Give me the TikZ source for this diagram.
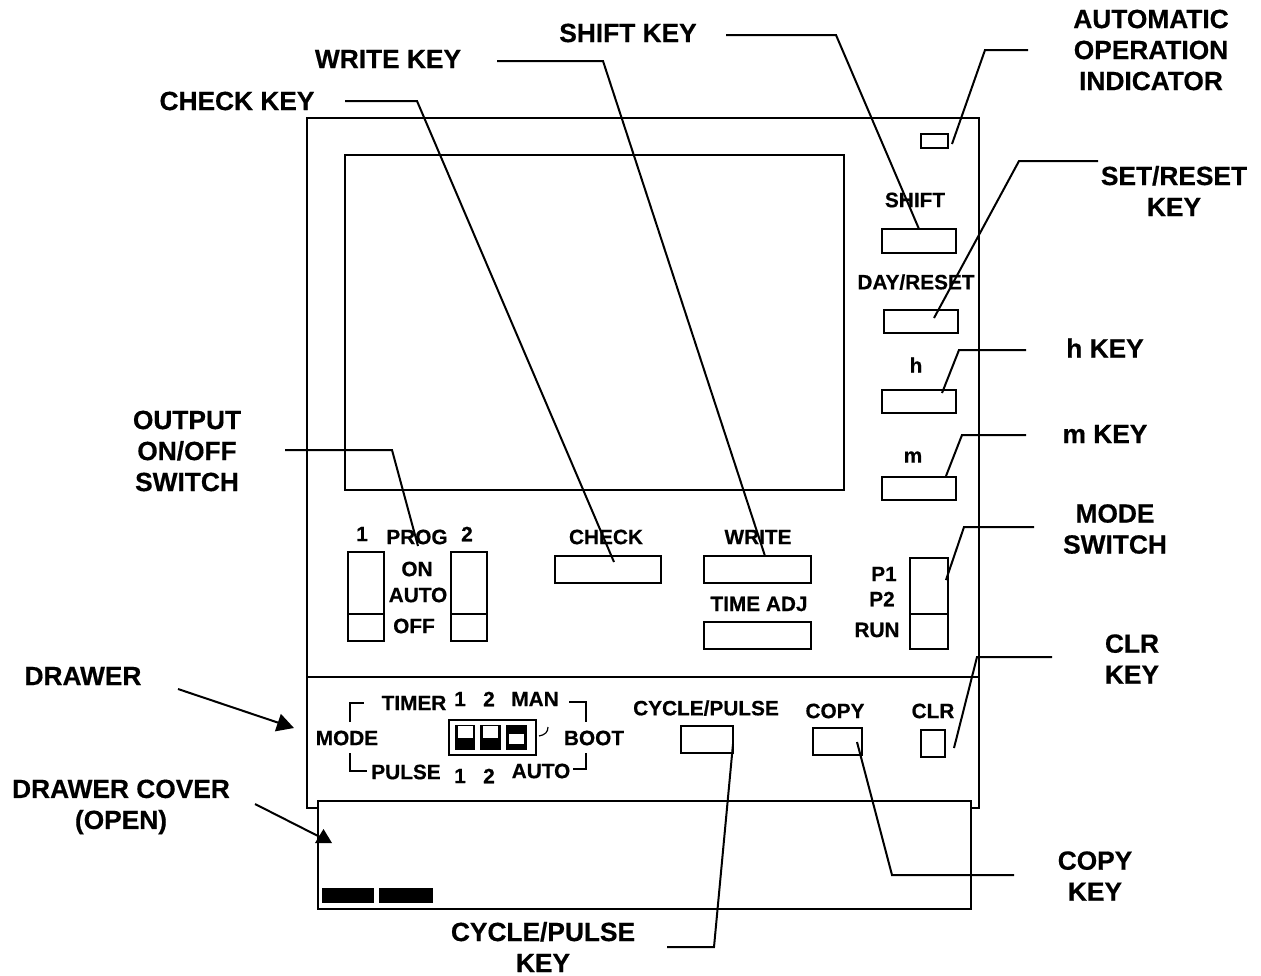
\documentclass[tikz,border=0pt]{standalone}
\usepackage{fontspec}
\setmainfont{Liberation Sans}[BoldFeatures={FakeBold=0.5}]
\usetikzlibrary{arrows.meta}
\tikzset{
  lab/.style={font=\bfseries\fontsize{26.3}{31}\selectfont,align=center,inner sep=0pt,text=black},
  tag/.style={font=\bfseries\fontsize{20.8}{24}\selectfont,align=center,inner sep=0pt,text=black},
  box/.style={draw=black,line width=2pt,fill=none,inner sep=0pt,outer sep=0pt,rectangle},
  edge/.style={draw=black,line width=2pt,line cap=butt,line join=miter},
  leader/.style={draw=black,line width=2pt},
  pointer/.style={draw=black,line width=2pt,-{Triangle[length=17pt,width=18pt]}},
}
\newcommand{\kbox}[5]{\node[box,minimum width=#4 pt,minimum height=#5 pt] (#1) at (#2,#3) {};}
\begin{document}
\begin{tikzpicture}[x=1pt,y=-1pt]
\useasboundingbox (0,0) rectangle (1261,975);
% housing
\draw[edge] (318,808) -- (307,808) -- (307,118) -- (979,118) -- (979,808) -- (971,808);
\draw[edge] (307,677) -- (979,677);
\kbox{cover}{644.5}{855}{653}{108}
\kbox{display}{594.5}{322.5}{499}{335}
% keys
\kbox{indicator}{934.5}{141}{27}{14}
\kbox{shiftk}{919}{241}{74}{24}
\kbox{dayk}{921}{321.5}{74}{23}
\kbox{hk}{919}{401.5}{74}{23}
\kbox{mk}{919}{488.5}{74}{23}
\kbox{checkk}{608}{569.5}{106}{27}
\kbox{writek}{757.5}{569.5}{107}{27}
\kbox{timek}{757.5}{635.5}{107}{27}
\kbox{swa}{366}{596.5}{36}{89}
\kbox{swb}{469}{596.5}{36}{89}
\kbox{swm}{929}{603.5}{38}{91}
\kbox{cyclek}{707}{739.5}{52}{27}
\kbox{copyk}{837.5}{741.5}{49}{27}
\kbox{clrk}{933}{743.5}{24}{27}
\draw[edge] (swa.west |- 0,614) -- (swa.east |- 0,614);
\draw[edge] (swb.west |- 0,614) -- (swb.east |- 0,614);
\draw[edge] (swm.west |- 0,614) -- (swm.east |- 0,614);
% black bars
\fill[black] (322,888) rectangle (374,903);
\fill[black] (379,888) rectangle (433,903);
% dip switch
\node[box,line width=1.5pt,minimum width=87pt,minimum height=35pt] (dip) at (492.5,737.5) {};
\fill[black] (455,725) rectangle (475,750);
\fill[black] (480,725) rectangle (501,750);
\fill[black] (506,725) rectangle (527,750);
\fill[white] (458,726) rectangle (473,738);
\fill[white] (483,726) rectangle (498,738);
\fill[white] (509,734) rectangle (524,744);
\draw[black,line width=1.2pt] (539,736) .. controls (545,735) and (548,732) .. (548,727);
% brackets
\draw[edge] (350,722) -- (350,703) -- (364,703);
\draw[edge] (350,753) -- (350,771) -- (367,771);
\draw[edge] (569,702) -- (586,702) -- (586,722);
\draw[edge] (573,769) -- (586,769) -- (586,753);
% inner labels
\node[tag] (tshift) at (915,200) {SHIFT};
\node[tag] (tday) at (916,282) {DAY/RESET};
\node[tag] (th) at (916,365) {h};
\node[tag] (tm) at (913,457) {m};
\node[tag] (tone) at (362,534) {1};
\node[tag] (tprog) at (417,537) {PROG};
\node[tag] (ttwo) at (467,534) {2};
\node[tag] (ton) at (417,569) {ON};
\node[tag] (tauto) at (418,595) {AUTO};
\node[tag] (toff) at (414,626) {OFF};
\node[tag] (tcheck) at (606,537) {CHECK};
\node[tag] (twrite) at (758,537) {WRITE};
\node[tag] (ttime) at (759,604) {TIME ADJ};
\node[tag] (tpa) at (884,574) {P1};
\node[tag] (tpb) at (882,599) {P2};
\node[tag] (trun) at (877,630) {RUN};
\node[tag] (ttimer) at (414,703) {TIMER};
\node[tag] (tta) at (460,699) {1};
\node[tag] (ttb) at (489,699) {2};
\node[tag] (tman) at (535,699) {MAN};
\node[tag] (tmode) at (347,738) {MODE};
\node[tag] (tboot) at (594,738) {BOOT};
\node[tag] (tpulse) at (406,772) {PULSE};
\node[tag] (tpa2) at (460,776) {1};
\node[tag] (tpb2) at (489,776) {2};
\node[tag] (tauto2) at (541,771) {AUTO};
\node[tag] (tcycle) at (706,708) {CYCLE/PULSE};
\node[tag] (tcopy) at (835,711) {COPY};
\node[tag] (tclr) at (933,711) {CLR};
% outer labels
\node[lab] (lcheck) at (237,101) {CHECK KEY};
\node[lab] (lwrite) at (388,59) {WRITE KEY};
\node[lab] (lshift) at (628,33) {SHIFT KEY};
\node[lab] (lauto) at (1151,50) {AUTOMATIC\\OPERATION\\INDICATOR};
\node[lab] (lset) at (1174,191) {SET/RESET\\KEY};
\node[lab] (lh) at (1105,348) {h KEY};
\node[lab] (lm) at (1105,434) {m KEY};
\node[lab] (lmode) at (1115,529) {MODE\\SWITCH};
\node[lab] (lclr) at (1132,659) {CLR\\KEY};
\node[lab] (lcopy) at (1095,876) {COPY\\KEY};
\node[lab] (lcycle) at (543,947) {CYCLE/PULSE\\KEY};
\node[lab] (loutput) at (187,451) {OUTPUT\\ON/OFF\\SWITCH};
\node[lab] (ldrawer) at (83,676) {DRAWER};
\node[lab] (lcover) at (121,807) {DRAWER COVER\\(OPEN)};
% leader anchors
\coordinate (acheck) at (345,101); \coordinate (bcheck) at (417,101); \coordinate (ccheck) at (614,562);
\coordinate (awrite) at (497,61); \coordinate (bwrite) at (603,61); \coordinate (cwrite) at (765,556);
\coordinate (ashift) at (726,35); \coordinate (bshift) at (836,35); \coordinate (cshift) at (919,229);
\coordinate (aauto) at (1028,50); \coordinate (bauto) at (985,50); \coordinate (cauto) at (952,144);
\coordinate (aset) at (1098,161); \coordinate (bset) at (1019,161); \coordinate (cset) at (934,318);
\coordinate (ah) at (1026,350); \coordinate (bh) at (959,350); \coordinate (ch) at (942,393);
\coordinate (am) at (1026,435); \coordinate (bm) at (962,435); \coordinate (cm) at (946,476);
\coordinate (amode) at (1034,527); \coordinate (bmode) at (964,527); \coordinate (cmode) at (946,580);
\coordinate (aclr) at (1052,657); \coordinate (bclr) at (977,657); \coordinate (cclr) at (954,748);
\coordinate (acopy) at (1014,875); \coordinate (bcopy) at (892,875); \coordinate (ccopy) at (857,742);
\coordinate (acycle) at (667,947); \coordinate (bcycle) at (714,947); \coordinate (ccycle) at (733,744);
\coordinate (aout) at (285,450); \coordinate (bout) at (392,450); \coordinate (cout) at (418,546);
\foreach \n in {check,write,shift,auto,set,h,m,mode,clr,copy,cycle,out}
  \draw[leader] (a\n) -- (b\n) -- (c\n);
% arrows
\coordinate (adr) at (178,689); \coordinate (bdr) at (294,728);
\draw[pointer] (adr) -- (bdr);
\coordinate (acv) at (255,804); \coordinate (bcv) at (322,838);
\coordinate (tipa) at (323.5,829); \coordinate (tipb) at (315,843); \coordinate (tipc) at (332,843);
\draw[leader] (acv) -- (bcv);
\fill[black] (tipa) -- (tipb) -- (tipc) -- cycle;
\end{tikzpicture}
\end{document}
